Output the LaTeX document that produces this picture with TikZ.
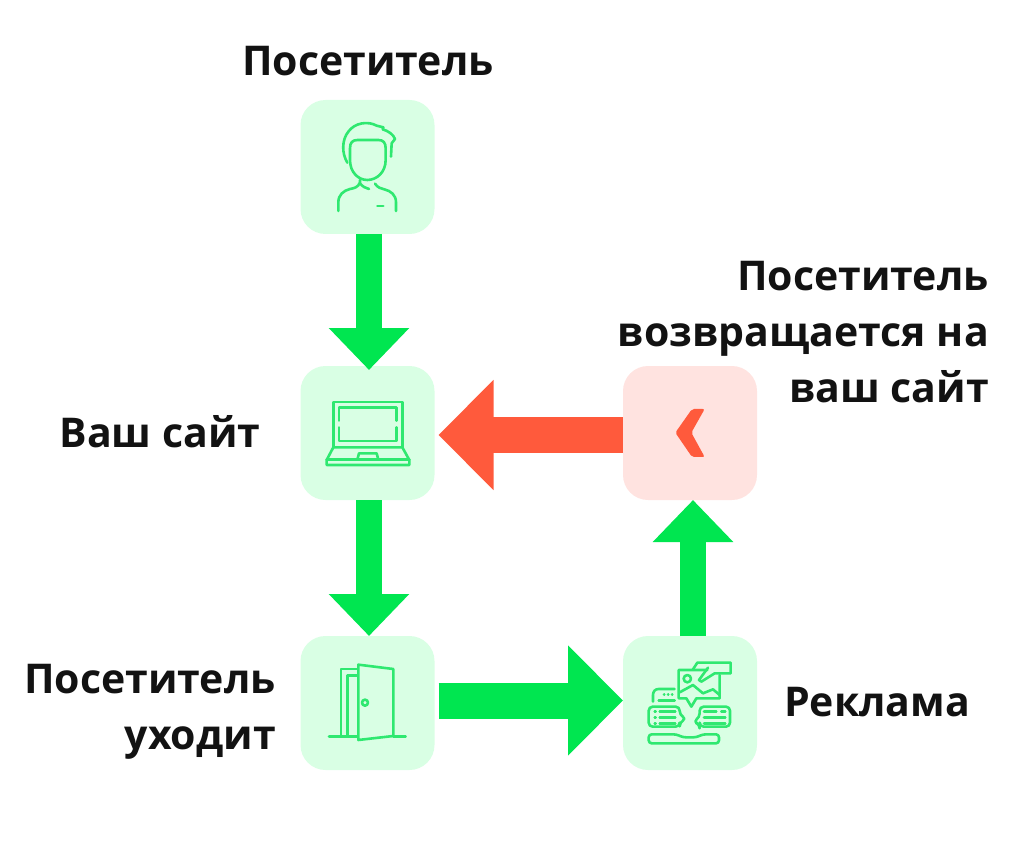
\documentclass[tikz,border=0pt]{standalone}
\usepackage{fontspec}
\setmainfont{Open Sans}
\usetikzlibrary{arrows.meta}
\definecolor{boxgreen}{HTML}{D9FFE4}
\definecolor{boxred}{HTML}{FFE3E0}
\definecolor{arrgreen}{HTML}{00E650}
\definecolor{arrred}{HTML}{FF5A3C}
\definecolor{icongreen}{HTML}{2FE870}
\tikzset{
  box/.style={minimum size=134pt,rounded corners=25pt,outer sep=0pt,fill=boxgreen},
  lab/.style={font=\fontsize{41}{56}\selectfont\bfseries,text=black!93,align=right,inner sep=0pt},
  flow/.style={line width=26pt,draw=arrgreen,-{Triangle[length=42pt,width=78pt]}},
  flowbig/.style={line width=36pt,-{Triangle[length=55pt,width=107pt]}},
  icon/.style={draw=icongreen,line width=2.6pt,line join=round,line cap=round},
}
\begin{document}
\begin{tikzpicture}[x=1pt,y=-1pt]
\useasboundingbox (0,0) rectangle (1024,850);
\node [box] (v0) at (367.5,167) {};
\node [box] (v1) at (367.5,433) {};
\node [box] (v2) at (367.5,703) {};
\node [box] (v3) at (690,703) {};
\node [box,fill=boxred] (v4) at (690,433) {};
\node [lab] (t0) at (368,61) {Посетитель};
\node [lab] (t1) at (160,432) {Ваш сайт};
\node [lab,anchor=east] (t2) at (276,712) {Посетитель\\уходит};
\node [lab] (t3) at (877,702) {Реклама};
\node [lab,anchor=east] (t4) at (989,332) {Посетитель\\возвращается на\\ваш сайт};
\draw [flow,shorten >=-4pt] ([xshift=1.5pt]v0.south) -- ([xshift=1.5pt]v1.north);
\draw [flow] ([xshift=1.5pt]v1.south) -- ([xshift=1.5pt]v2.north);
\draw [flow] ([xshift=3pt]v3.north) -- ([xshift=3pt]v4.south);
\draw [flowbig,draw=arrgreen,shorten <=4pt] ([yshift=2.5pt]v2.east) -- ([yshift=2.5pt]v3.west);
\draw [flowbig,draw=arrred,shorten >=4pt] ([yshift=-2pt]v4.west) -- ([yshift=-2pt]v1.east);
% visitor
\begin{scope}[shift={(295,95)},x=.3333pt,y=-.3333pt,icon]
\draw (157,203) .. controls (140,175) and (140,135) .. (160,110) .. controls (180,82) and (220,78) .. (245,92) -- (265,97) -- (263,103) .. controls (280,108) and (295,118) .. (300,132) -- (290,145) -- (288,185);
\draw (165,160) .. controls (165,143) and (172,135) .. (188,135) -- (250,135) .. controls (265,135) and (272,143) .. (272,160) -- (272,195) .. controls (272,232) and (245,255) .. (217,255) .. controls (190,255) and (165,232) .. (165,195) -- cycle;
\draw (195,255) -- (195,262) .. controls (190,278) and (175,280) .. (165,282) .. controls (145,287) and (130,300) .. (130,322) -- (130,348);
\draw (195,265) .. controls (203,275) and (212,280) .. (222,282);
\draw (240,266) .. controls (248,278) and (258,281) .. (268,283) .. controls (288,288) and (303,300) .. (303,322) -- (303,348);
\draw (247,333) -- (265,333);
\end{scope}
% laptop
\begin{scope}[shift={(295,360)},x=.3333pt,y=-.3333pt,icon]
\draw (115,262) -- (115,126) -- (322,126) -- (322,262);
\draw (132,182) -- (132,143) -- (305,143) -- (305,182);
\draw (132,202) -- (132,243) -- (305,243) -- (305,202);
\draw (115,262) -- (322,262) -- (343,300) -- (343,315) -- (95,315) -- (95,300) -- cycle;
\draw (95,299) -- (343,299);
\draw (187,299) -- (192,280) -- (245,280) -- (250,299);
\end{scope}
% door
\begin{scope}[shift={(295,630)},x=.3333pt,y=-.3333pt,icon]
\draw (138,318) -- (138,117) -- (188,117);
\draw (157,318) -- (157,137) -- (188,137);
\draw (190,104) -- (295,117) -- (295,318) -- (190,330) -- cycle;
\draw (210,218) circle (9);
\draw (102,319) -- (188,319);
\draw (295,319) -- (332,319);
\end{scope}
% ads
\begin{scope}[shift={(618,630)},x=.3333pt,y=-.3333pt,icon]
\draw (268,120) -- (182,120) -- (182,205) -- (205,205) -- (220,230) -- (235,205) -- (305,205) -- (305,135);
\draw (225,118) -- (238,98) -- (338,98) -- (338,130) -- (290,130) -- (250,155) -- (243,150) -- (270,113);
\draw (208,146) circle (11);
\draw (185,187) -- (225,165) -- (255,190) -- (285,178) -- (305,195);
\draw (105,215) -- (105,195) .. controls (105,184) and (112,177) .. (122,177) -- (170,177);
\draw (122,212) -- (170,212);
\draw (138,194) -- (139,194) (150,194) -- (151,194) (162,194) -- (163,194);
\draw [rounded corners=4pt] (92,230) -- (185,230) -- (185,255) -- (205,266) -- (185,277) -- (185,290) -- (92,290) -- cycle;
\draw (110,245) -- (113,245) (125,245) -- (172,245) (110,263) -- (113,263) (125,263) -- (172,263) (110,281) -- (113,281) (125,281) -- (172,281);
\draw [rounded corners=4pt] (245,230) -- (336,230) -- (336,290) -- (245,290) -- (245,283) -- (226,275) -- (245,262) -- cycle;
\draw (258,245) -- (295,245) (310,245) -- (322,245) (258,263) -- (322,263) (258,281) -- (322,281);
\draw [rounded corners=3pt] (92,313) -- (175,313) -- (195,322) -- (235,322) -- (255,313) -- (303,313) -- (303,340) -- (92,340) -- cycle;
\end{scope}
% chevron
\begin{scope}[shift={(618,360)},x=.3333pt,y=-.3333pt]
\fill [arrred,rounded corners=2pt] (222,147) -- (260,147) -- (220,218) -- (260,291) -- (222,291) -- (172,218) -- cycle;
\end{scope}
\end{tikzpicture}
\end{document}
